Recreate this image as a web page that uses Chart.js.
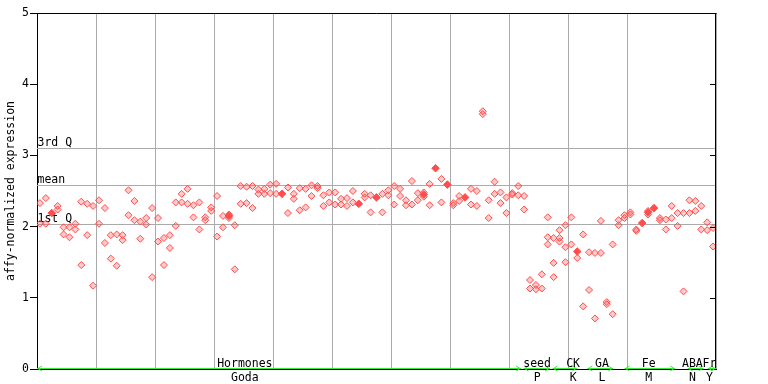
<!DOCTYPE html>
<html>
<head>
<meta charset="utf-8">
<script src="https://cdn.jsdelivr.net/npm/chart.js@4/dist/chart.umd.min.js"></script>
<style>
  html, body { margin: 0; padding: 0; background: #fff; }
  #wrap { width: 768px; height: 384px; }
</style>
</head>
<body>
<div id="wrap"><canvas id="c" width="768" height="384"></canvas></div>
<script>
// ---- data (sample index 0..114) ----
const rep1 = [2.33,2.40,null,2.29,1.99,1.99,2.04,2.35,2.32,2.29,
              2.37,2.26,1.88,1.89,1.88,2.51,2.36,2.07,2.12,2.26,
              2.12,1.84,1.88,2.34,2.46,2.53,2.30,2.34,2.13,2.27,
              2.43,2.15,2.17,2.02,2.57,2.56,2.57,2.52,2.53,2.59,
              2.60,null,2.55,2.46,2.54,2.53,2.58,2.57,2.44,2.48,
              2.48,2.39,2.40,2.50,null,2.46,2.44,null,2.46,2.51,
              2.57,2.53,2.37,2.64,2.47,2.48,2.60,null,2.67,null,
              2.33,2.43,null,2.53,2.50,3.62,2.37,2.63,2.48,2.41,
              2.47,2.57,2.43,1.25,1.18,1.33,2.13,1.84,1.95,2.02,
              2.13,1.56,1.89,1.64,1.63,2.08,0.94,1.75,2.09,2.16,
              2.20,1.96,null,2.22,null,2.12,2.10,2.29,2.19,2.19,
              2.37,2.36,2.29,2.06,1.98];
const rep2 = [2.04,2.04,null,2.24,1.89,1.85,1.96,1.46,1.88,1.17,
              2.04,1.77,1.55,1.45,1.81,2.16,2.09,1.83,2.03,1.29,
              1.79,1.46,1.70,2.01,2.34,2.32,2.13,1.96,2.09,2.22,
              1.86,1.99,2.12,1.40,2.32,2.33,2.26,2.46,2.46,2.47,
              2.46,null,2.19,2.39,2.23,2.27,2.43,2.54,2.29,2.34,
              2.31,2.31,2.29,2.34,null,2.41,2.20,null,2.20,2.44,
              2.31,2.43,2.30,2.31,2.37,2.42,2.30,null,2.34,null,
              2.30,2.36,null,2.31,2.29,3.58,2.12,2.46,2.33,2.19,
              2.45,2.44,2.24,1.13,1.12,1.13,1.85,1.49,1.84,1.71,
              1.75,null,0.88,1.11,0.71,1.63,0.91,0.77,2.02,2.12,
              2.17,1.94,null,2.17,null,2.09,1.96,2.12,2.01,1.09,
              2.19,2.22,1.96,1.95,1.72];
// extra replicate where three hollow marks are visible
const rep3Index = [86, 87, 88, 89];
const rep3Value = [1.75, 1.29, 1.79, 1.50];
// solid marks
const solidIndex = [2, 32, 41, 54, 57, 65, 67, 69, 72, 91, 102, 103, 104];
const solidValue = [2.19, 2.15, 2.46, 2.32, 2.41, 2.45, 2.82, 2.59, 2.41, 1.65, 2.05, 2.20, 2.26];

const sampleCount = 115;
const yTicks = [0, 1, 2, 3, 4, 5];
const quartileValues = [3.10, 2.587, 2.04];
const quartileLabels = ['3rd Q', 'mean', '1st Q'];

// sample groups (in sample-index units)
const groupTop    = ['Hormones', 'seed', 'CK', 'GA', 'Fe', 'ABA', 'Fr'];
const groupBottom = ['Goda', 'P', 'K', 'L', 'M', 'N', 'Y'];
const groupFrom   = [0,    82.4, 87.3, 93.2, 99.5, 110.2, 113.6];
const groupTo     = [82.0, 86.9, 91.5, 97.6, 108.1, 112.9, 115];
const groupMid    = [35.2, 84.7, 90.8, 95.7, 103.6, 111.0, 113.9];

const yTitle = 'affy-normalized expression';

// ---- build datasets ----
function pts(arr){ const o=[]; arr.forEach((v,i)=>{ if(v!==null) o.push({x:i+0.5,y:v}); }); return o; }
function ptsIdx(idx, vals){ return idx.map((k,j)=>({x:k+0.5,y:vals[j]})); }

const FONT = '"DejaVu Sans Mono", "Liberation Mono", monospace';
const RED = '#ff4d4d';
const GRID = '#aaaaaa';
const GREEN = '#33ee33';

const hollow = {
  type: 'scatter', pointStyle: 'rectRot', pointRadius: 3.5, borderWidth: 1,
  borderColor: RED, backgroundColor: 'rgba(255,77,77,0.3)', showLine: false
};

const decor = {
  id: 'decor',
  beforeDatasetsDraw(chart){
    const {ctx, chartArea: a, scales: {y}} = chart;
    ctx.save();
    ctx.strokeStyle = GRID; ctx.lineWidth = 1;
    ctx.font = '11.5px ' + FONT; ctx.fillStyle = '#000';
    ctx.textAlign = 'left'; ctx.textBaseline = 'alphabetic';
    quartileValues.forEach((v,k)=>{
      const py = Math.round(y.getPixelForValue(v)) + 0.5;
      ctx.beginPath(); ctx.moveTo(a.left, py); ctx.lineTo(a.right, py); ctx.stroke();
      ctx.fillText(quartileLabels[k], a.left + 0.5, py - 3);
    });
    ctx.restore();
  },
  afterDatasetsDraw(chart){
    const {ctx, chartArea: a, scales: {x, y}} = chart;
    ctx.save();
    // frame
    ctx.strokeStyle = '#000'; ctx.lineWidth = 1;
    ctx.beginPath();
    ctx.moveTo(a.left, Math.round(a.top)+0.5); ctx.lineTo(a.right+0.5, Math.round(a.top)+0.5);
    ctx.moveTo(Math.round(a.right)-0.5, a.top); ctx.lineTo(Math.round(a.right)-0.5, a.bottom);
    ctx.stroke();
    // inner ticks on right side
    ctx.beginPath();
    yTicks.forEach(v=>{
      const py = Math.round(y.getPixelForValue(v)) + 0.5;
      ctx.moveTo(a.right - 6, py); ctx.lineTo(a.right, py);
    });
    ctx.stroke();
    // group arrows
    const gy = Math.round(y.getPixelForValue(0)) - 0.5;
    ctx.strokeStyle = GREEN; ctx.lineWidth = 1;
    groupFrom.forEach((f,k)=>{
      const x0 = x.getPixelForValue(f), x1 = x.getPixelForValue(groupTo[k]);
      ctx.beginPath();
      ctx.moveTo(x0, gy); ctx.lineTo(x1, gy);
      ctx.moveTo(x0 + 5, gy - 2.5); ctx.lineTo(x0 + 1, gy); ctx.lineTo(x0 + 5, gy + 2.5);
      ctx.moveTo(x1 - 5, gy - 2.5); ctx.lineTo(x1 - 1, gy); ctx.lineTo(x1 - 5, gy + 2.5);
      ctx.stroke();
    });
    // group labels
    ctx.font = '11.5px ' + FONT; ctx.fillStyle = '#000';
    ctx.textAlign = 'center'; ctx.textBaseline = 'alphabetic';
    groupMid.forEach((m,k)=>{
      const px = x.getPixelForValue(m);
      ctx.fillText(groupTop[k], px, gy - 1.5);
      ctx.fillText(groupBottom[k], px, gy + 12.5);
    });
    ctx.restore();
  }
};

new Chart(document.getElementById('c'), {
  data: {
    datasets: [
      Object.assign({ data: pts(rep1) }, hollow),
      Object.assign({ data: pts(rep2) }, hollow),
      Object.assign({ data: ptsIdx(rep3Index, rep3Value) }, hollow),
      { type: 'scatter', data: ptsIdx(solidIndex, solidValue), pointStyle: 'rectRot',
        pointRadius: 3.8, borderWidth: 1, borderColor: RED, backgroundColor: RED }
    ]
  },
  options: {
    responsive: false, animation: false, events: [],
    layout: { padding: { top: 13, right: 52, left: 0, bottom: 0 } },
    plugins: { legend: { display: false }, tooltip: { enabled: false } },
    scales: {
      x: {
        type: 'linear', min: 0, max: sampleCount,
        ticks: { display: false, stepSize: 10 },
        grid: { color: GRID, drawTicks: false, lineWidth: 1 },
        border: { color: '#000', width: 1 },
        afterFit(s){ s.height = 15; }
      },
      y: {
        type: 'linear', min: 0, max: 5,
        ticks: { stepSize: 1, color: '#000', padding: 1, font: { family: FONT, size: 11.5 } },
        grid: { drawOnChartArea: false, drawTicks: true, tickLength: 7, tickColor: '#000' },
        border: { color: '#000', width: 1 },
        title: { display: true, text: yTitle, color: '#000', padding: { top: 4, bottom: 0 },
                 font: { family: FONT, size: 11.5 } },
        afterFit(s){ s.width = 37; }
      }
    }
  },
  plugins: [decor]
});
</script>
</body>
</html>
